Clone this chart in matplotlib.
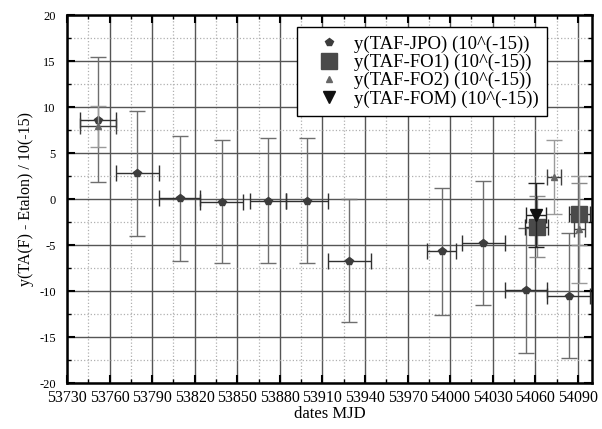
import matplotlib
matplotlib.use("Agg")
import matplotlib.pyplot as plt
import numpy as np
from matplotlib.ticker import MultipleLocator

plt.rcParams['font.family'] = ['Liberation Serif', 'DejaVu Serif']
plt.rcParams['axes.unicode_minus'] = False

# TAF-JPO
jpo_x = [53752, 53779.5, 53809.5, 53839, 53871.5, 53899, 53929, 53994, 54023.5, 54053.5, 54083.5]
jpo_y = [8.6, 2.8, 0.1, -0.3, -0.2, -0.2, -6.7, -5.7, -4.8, -9.9, -10.5]
jpo_yerr = [6.8, 6.8, 6.8, 6.7, 6.8, 6.8, 6.7, 6.9, 6.75, 6.8, 6.8]
jpo_xerr = [12.5, 15, 14.5, 15, 12.5, 15, 15, 10, 15, 15, 15]
# TAF-FO1
fo1_x = [54061, 54091]
fo1_y = [-3.0, -1.65]
fo1_yerr = [3.3, 3.4]
fo1_xerr = [8, 7.5]
# TAF-FO2
fo2_x = [53752, 54073.5, 54091]
fo2_y = [7.9, 2.4, -3.3]
fo2_yerr = [2.25, 4.05, 5.8]
fo2_xerr = [12.5, 5, 4]
# TAF-FOM
fom_x = [54060.5]
fom_y = [-1.75]
fom_yerr = [3.5]
fom_xerr = [7]

fig = plt.figure(figsize=(6.02, 4.29), dpi=100)
ax = fig.add_axes([0.1113, 0.1072, 0.8721, 0.8578])

ax.set_xlim(53730, 54100)
ax.set_ylim(-20, 20)
ax.xaxis.set_major_locator(MultipleLocator(30))
ax.xaxis.set_minor_locator(MultipleLocator(15))
ax.yaxis.set_major_locator(MultipleLocator(5))
ax.yaxis.set_minor_locator(MultipleLocator(2.5))
ax.grid(True, which='major', color='#555555', linewidth=1.0, linestyle='-')
ax.grid(True, which='minor', color='#b0b0b0', linewidth=0.9, linestyle=':')
ax.set_axisbelow(True)

ax.tick_params(which='major', direction='in', length=6, width=1.5, top=True, right=True)
ax.tick_params(which='minor', direction='in', length=3, width=1.0, top=True, right=True)
ax.tick_params(axis='x', labelsize=11.5, pad=5)
ax.tick_params(axis='y', labelsize=9, pad=8)
for s in ax.spines.values():
    s.set_linewidth(1.8)

def draw(x, y, xe, ye, col, vcol, hcol, marker, ms, label):
    ax.errorbar(x, y, yerr=ye, fmt='none', ecolor=vcol, elinewidth=1.0, capsize=6, capthick=1.0)
    ax.errorbar(x, y, xerr=xe, fmt='none', ecolor=hcol, elinewidth=1.0, capsize=6, capthick=1.0)
    ax.plot(x, y, linestyle='none', marker=marker, markersize=ms, color=col, label=label)

draw(jpo_x, jpo_y, jpo_xerr, jpo_yerr, '#3c3c3c', '#6e6e6e', '#303030', 'p', 6, 'y(TAF-JPO) (10^(-15))')
draw(fo1_x, fo1_y, fo1_xerr, fo1_yerr, '#4a4a4a', '#8a8a8a', '#2a2a2a', 's', 11, 'y(TAF-FO1) (10^(-15))')
draw(fo2_x, fo2_y, fo2_xerr, fo2_yerr, '#666666', '#9a9a9a', '#404040', '^', 5, 'y(TAF-FO2) (10^(-15))')
draw(fom_x, fom_y, fom_xerr, fom_yerr, '#111111', '#222222', '#222222', 'v', 9, 'y(TAF-FOM) (10^(-15))')

ax.set_xlabel('dates MJD', fontsize=12, labelpad=0)
ax.set_ylabel('y(TA(F) - Etalon) / 10(-15)', fontsize=11.5, labelpad=4)

leg = ax.legend(loc='upper right', bbox_to_anchor=(0.914, 0.967), borderaxespad=0,
                fontsize=13.5, fancybox=False, framealpha=1, edgecolor='black',
                handletextpad=0.05, labelspacing=0.05, borderpad=0.45, handlelength=2.5)
leg.get_frame().set_linewidth(1.0)

fig.savefig('out.png', dpi=100)
